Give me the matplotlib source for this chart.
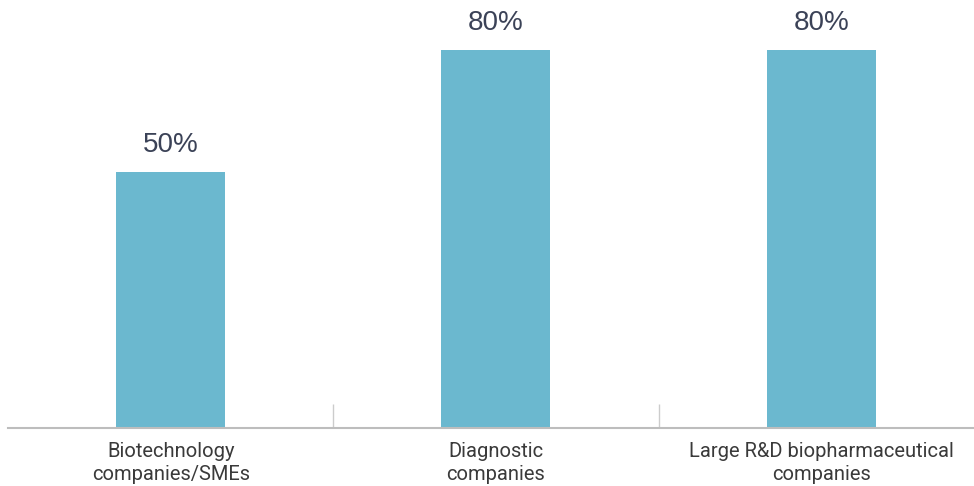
import matplotlib.pyplot as plt
import numpy as np

plt.rcParams.update({
    "font.family": "Roboto",
})

categories = ["Biotechnology\ncompanies/SMEs", "Diagnostic\ncompanies",
              "Large R&D biopharmaceutical\ncompanies"]
values = [50, 80, 80]
value_labels = ["50%", "80%", "80%"]

# the source chart does not start its bars at zero
base = -13

fig = plt.figure(figsize=(9.74, 4.86), dpi=100)
ax = fig.add_axes([8 / 974, 58 / 486, 966 / 974, 428 / 486])

x = np.arange(len(categories))
heights = np.array(values) - base
bars = ax.bar(x, heights, bottom=base, width=0.335, color="#6bb8cf")

for b, lab in zip(bars, value_labels):
    ax.text(b.get_x() + b.get_width() / 2, b.get_y() + b.get_height() + 3.5, lab,
            ha="center", va="bottom", fontsize=20, color="#3b4257",
            family="Liberation Sans")

ax.set_xlim(-0.50, 2.47)
ax.set_ylim(base, 92.3)

for s in ["top", "right", "left"]:
    ax.spines[s].set_visible(False)
ax.spines["bottom"].set_color("#bdbdbd")
ax.spines["bottom"].set_linewidth(1.5)

ax.set_yticks([])
ax.set_xticks(x)
ax.set_xticklabels(categories, fontsize=14.5, color="#3a3a3a", linespacing=1.3)
ax.tick_params(axis="x", which="major", length=0, pad=10)
ax.set_xticks([0.5, 1.5], minor=True)
ax.tick_params(axis="x", which="minor", direction="in", length=17,
               color="#cccccc", width=1)

fig.savefig("out.png", dpi=100)
